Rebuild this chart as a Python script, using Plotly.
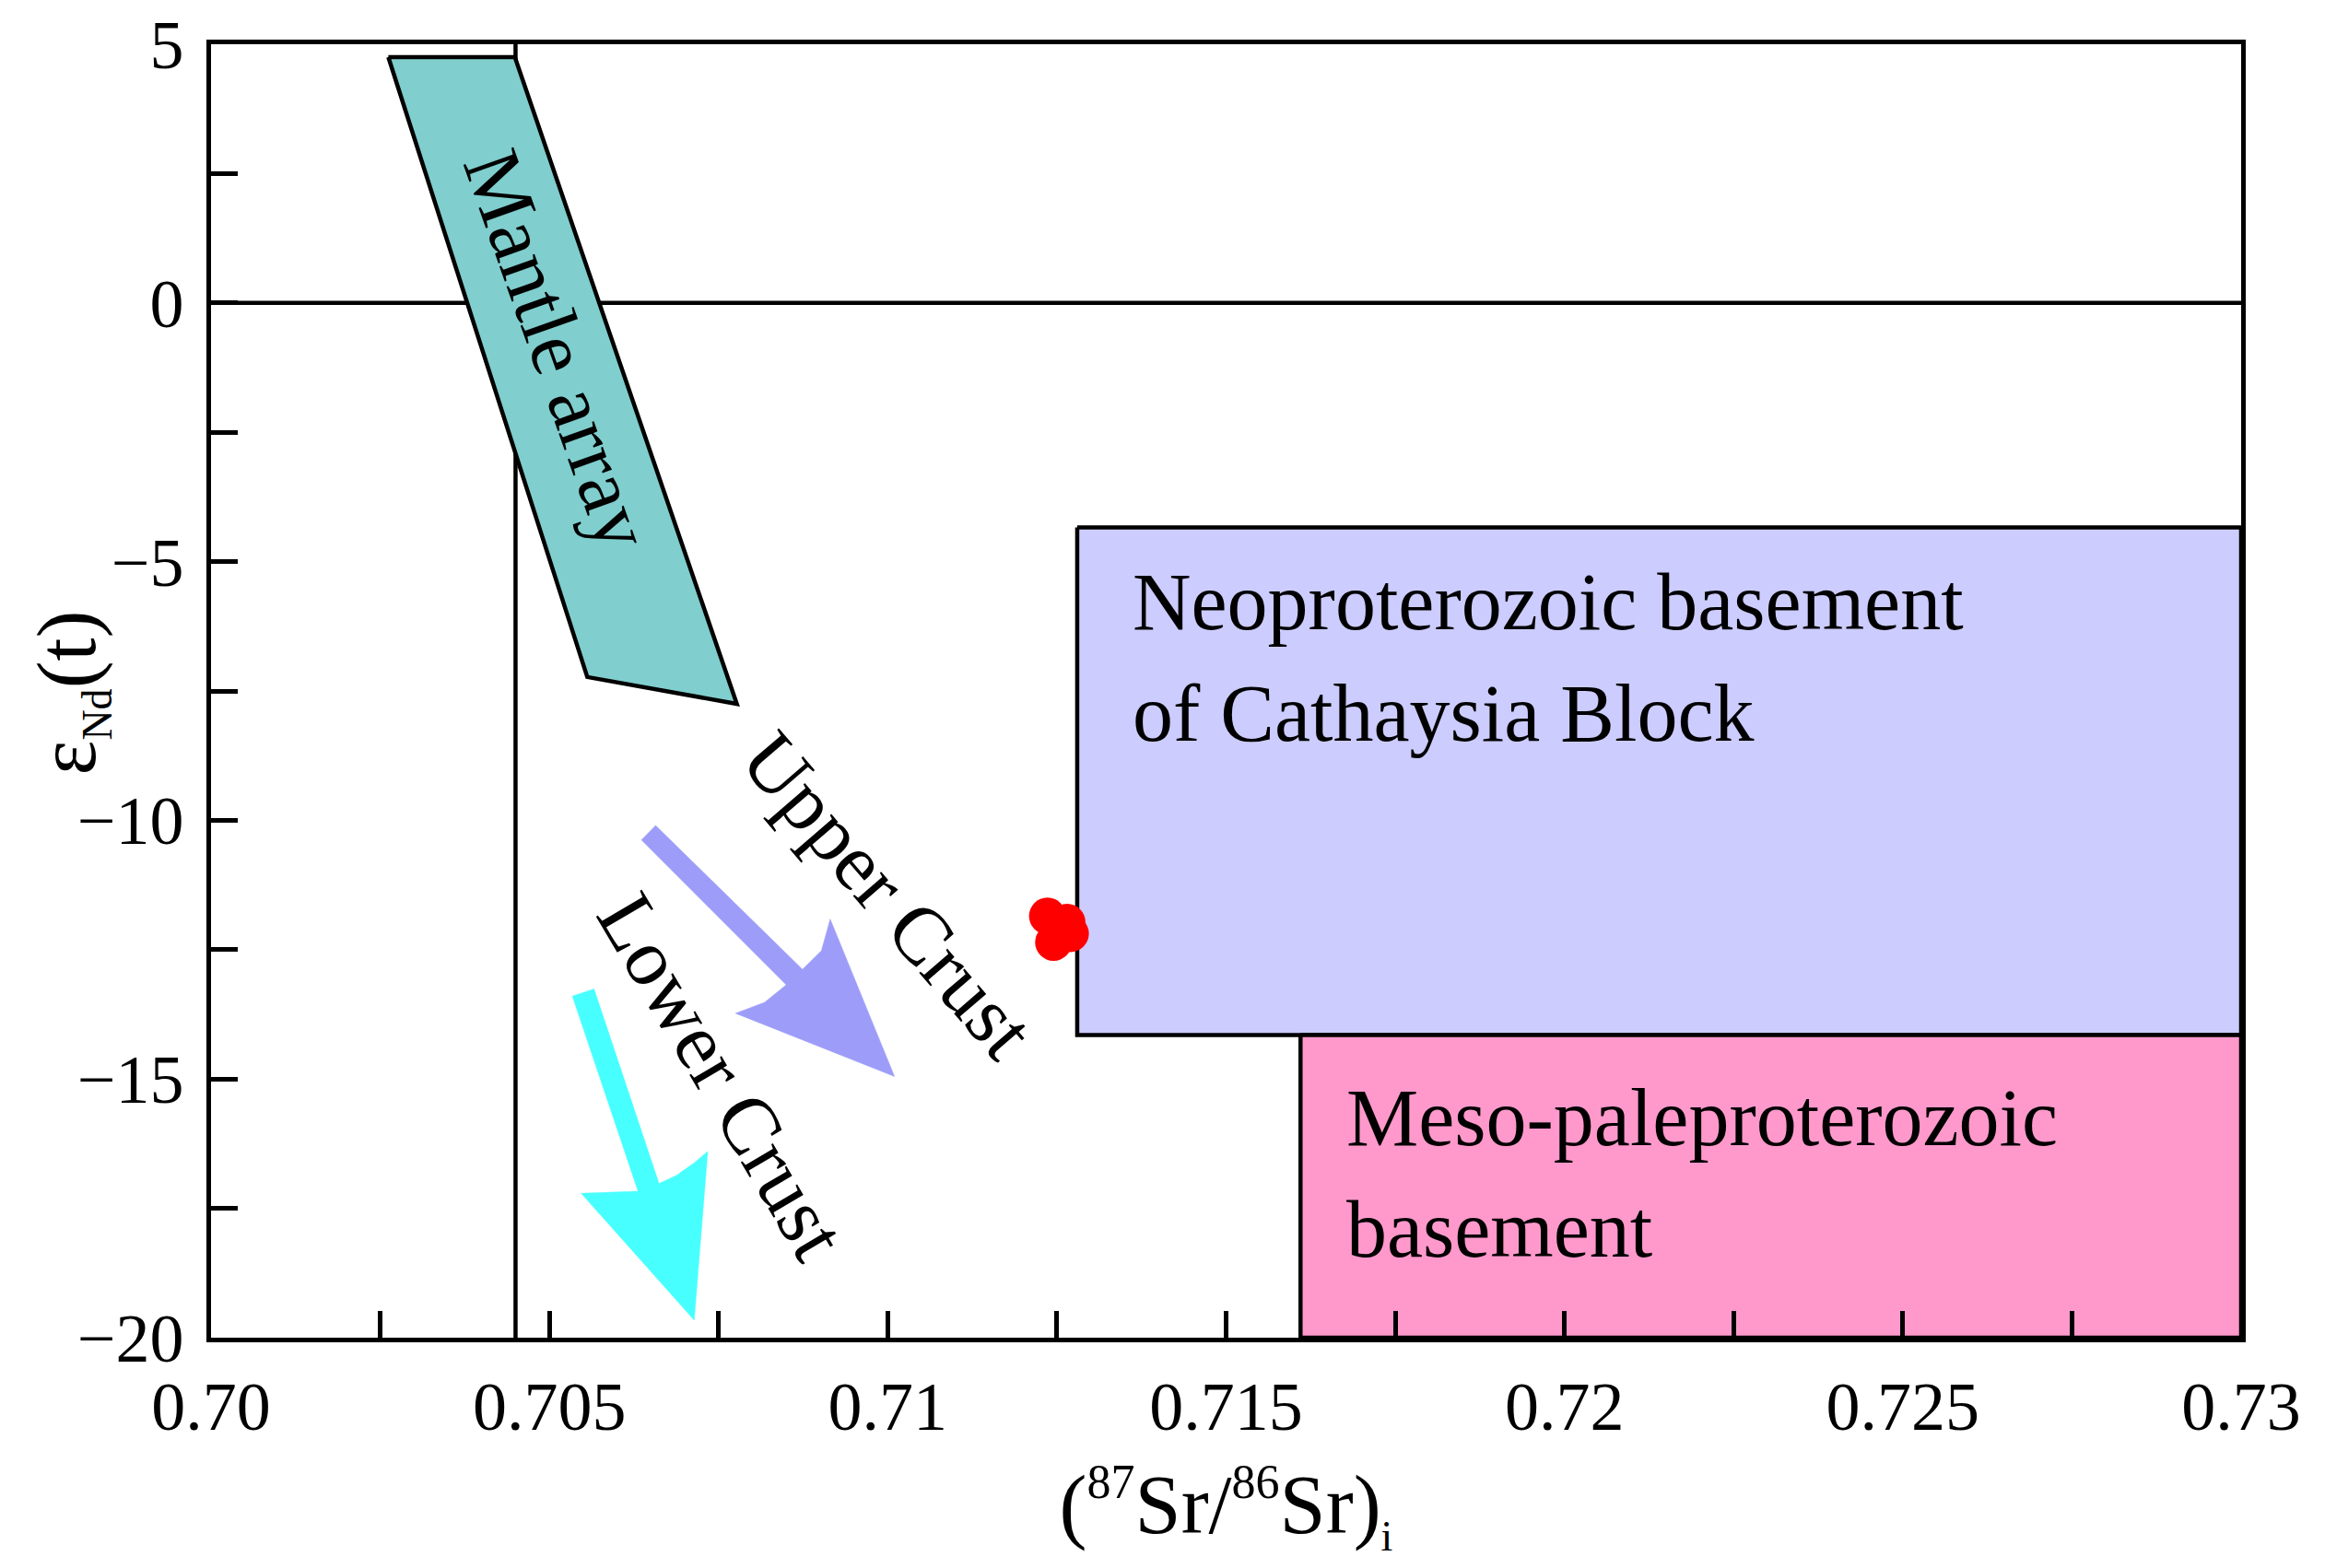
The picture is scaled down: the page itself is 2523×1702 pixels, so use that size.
import plotly.graph_objects as go

# ---------------- data ----------------
x_tick_vals = [0.70, 0.705, 0.71, 0.715, 0.72, 0.725, 0.73]
x_tick_text = ["0.70", "0.705", "0.71", "0.715", "0.72", "0.725", "0.73"]
x_minor_vals = [0.7025, 0.7075, 0.7125, 0.7175, 0.7225, 0.7275]
y_tick_vals = [5, 0, -5, -10, -15, -20]
y_tick_text = ["5", "0", "\u22125", "\u221210", "\u221215", "\u221220"]
y_minor_vals = [2.5, -2.5, -7.5, -12.5, -17.5]

# reference lines
ref_vline_x = [0.7045, 0.7045]
ref_vline_y = [-20, 5]
ref_hline_x = [0.70, 0.73]
ref_hline_y = [0, 0]

# fields
mantle_x = [0.70262, 0.70449, 0.70777, 0.70556, 0.70262]
mantle_y = [4.75, 4.75, -7.75, -7.23, 4.75]

neo_x = [0.7128, 0.73, 0.73, 0.7128, 0.7128]
neo_y = [-4.34, -4.34, -14.15, -14.15, -4.34]

meso_x = [0.7161, 0.73, 0.73, 0.7161, 0.7161]
meso_y = [-14.15, -14.15, -20, -20, -14.15]

# trend arrows (outline vertices)
upper_arrow_x = [0.70636, 0.70850, 0.70818, 0.70775, 0.71010, 0.70915, 0.70902, 0.70874, 0.70657, 0.70636]
upper_arrow_y = [-10.38, -13.18, -13.52, -13.73, -14.95, -11.91, -12.52, -12.88, -10.10, -10.38]

lower_arrow_x = [0.70534, 0.70631, 0.70547, 0.70714, 0.70734, 0.70714, 0.70688, 0.70662, 0.70566, 0.70534]
lower_arrow_y = [-13.40, -17.17, -17.21, -19.66, -16.40, -16.62, -16.86, -17.02, -13.26, -13.40]

# samples
sample_sr = [0.71236, 0.71265, 0.71245, 0.71270, 0.71252]
sample_nd = [-11.85, -11.97, -12.36, -12.19, -12.12]

FONT = "Liberation Serif, Times New Roman, serif"
LW = 4.5

fig = go.Figure()

fig.add_trace(go.Scatter(x=neo_x, y=neo_y, mode="lines", fill="toself",
                         fillcolor="#CCCCFF", line=dict(color="black", width=LW),
                         hoverinfo="skip"))
fig.add_trace(go.Scatter(x=meso_x, y=meso_y, mode="lines", fill="toself",
                         fillcolor="#FF99CC", line=dict(color="black", width=LW),
                         hoverinfo="skip"))
fig.add_trace(go.Scatter(x=ref_vline_x, y=ref_vline_y, mode="lines",
                         line=dict(color="black", width=LW), hoverinfo="skip"))
fig.add_trace(go.Scatter(x=ref_hline_x, y=ref_hline_y, mode="lines",
                         line=dict(color="black", width=LW), hoverinfo="skip"))
fig.add_trace(go.Scatter(x=mantle_x, y=mantle_y, mode="lines", fill="toself",
                         fillcolor="#80CECE", line=dict(color="black", width=LW),
                         hoverinfo="skip"))
fig.add_trace(go.Scatter(x=upper_arrow_x, y=upper_arrow_y, mode="lines", fill="toself",
                         fillcolor="#9D9DF9", line=dict(color="#9D9DF9", width=0.5),
                         hoverinfo="skip"))
fig.add_trace(go.Scatter(x=lower_arrow_x, y=lower_arrow_y, mode="lines", fill="toself",
                         fillcolor="#48FFFF", line=dict(color="#48FFFF", width=0.5),
                         hoverinfo="skip"))
fig.add_trace(go.Scatter(x=sample_sr, y=sample_nd, mode="markers",
                         marker=dict(color="#FF0000", size=40, line=dict(width=0))))

ann_font = dict(family=FONT, size=88, color="black")
annotations = [
    dict(x=0.70512, y=-0.91, text="Mantle array", textangle=70.5, showarrow=False,
         xanchor="center", yanchor="middle", font=ann_font),
    dict(x=0.71000, y=-11.45, text="Upper Crust", textangle=49.3, showarrow=False,
         xanchor="center", yanchor="middle", font=ann_font),
    dict(x=0.70755, y=-14.95, text="Lower Crust", textangle=59.5, showarrow=False,
         xanchor="center", yanchor="middle", font=ann_font),
    dict(x=0.71359, y=-5.78, text="Neoproterozoic basement", showarrow=False,
         xanchor="left", yanchor="middle", font=ann_font),
    dict(x=0.71359, y=-7.93, text="of Cathaysia Block", showarrow=False,
         xanchor="left", yanchor="middle", font=ann_font),
    dict(x=0.71675, y=-15.75, text="Meso-paleproterozoic", showarrow=False,
         xanchor="left", yanchor="middle", font=ann_font),
    dict(x=0.71675, y=-17.90, text="basement", showarrow=False,
         xanchor="left", yanchor="middle", font=ann_font),
    dict(x=-0.0690, y=0.499, xref="paper", yref="paper", textangle=-90,
         text="\u03b5<sub><span style='font-size:46px'>Nd</span></sub>(t)",
         showarrow=False, xanchor="center", yanchor="middle",
         font=dict(family=FONT, size=90, color="black")),
]

fig.update_layout(
    width=2515, height=1694,
    margin=dict(l=221, r=91, t=40, b=250, pad=0, autoexpand=False),
    paper_bgcolor="white", plot_bgcolor="white",
    showlegend=False,
    font=dict(family=FONT, color="black"),
    annotations=annotations,
)

fig.update_xaxes(
    range=[0.70, 0.73], autorange=False, automargin=False,
    tickmode="array", tickvals=x_tick_vals, ticktext=x_tick_text,
    ticks="inside", ticklen=29, tickwidth=LW, tickcolor="black",
    minor=dict(tickmode="array", tickvals=x_minor_vals, ticks="inside",
               ticklen=29, tickwidth=LW, tickcolor="black", showgrid=False),
    showline=True, linecolor="black", linewidth=LW, mirror=True,
    showgrid=False, zeroline=False,
    tickfont=dict(family=FONT, size=74, color="black"),
    ticklabelstandoff=6, ticklabeloverflow="allow",
    title=dict(text="(<sup><span style='font-size:52px'>87</span></sup>Sr/<sup><span style='font-size:52px'>86</span></sup>Sr)<sub><span style='font-size:46px'>i</span></sub>",
               font=dict(family=FONT, size=90, color="black"), standoff=36),
)
fig.update_yaxes(
    range=[-20, 5], autorange=False, automargin=False,
    tickmode="array", tickvals=y_tick_vals, ticktext=y_tick_text,
    ticks="inside", ticklen=29, tickwidth=LW, tickcolor="black",
    minor=dict(tickmode="array", tickvals=y_minor_vals, ticks="inside",
               ticklen=29, tickwidth=LW, tickcolor="black", showgrid=False),
    showline=True, linecolor="black", linewidth=LW, mirror=True,
    showgrid=False, zeroline=False,
    tickfont=dict(family=FONT, size=74, color="black"),
    ticklabelstandoff=10, ticklabeloverflow="allow",
)

fig.write_html("out.html")
